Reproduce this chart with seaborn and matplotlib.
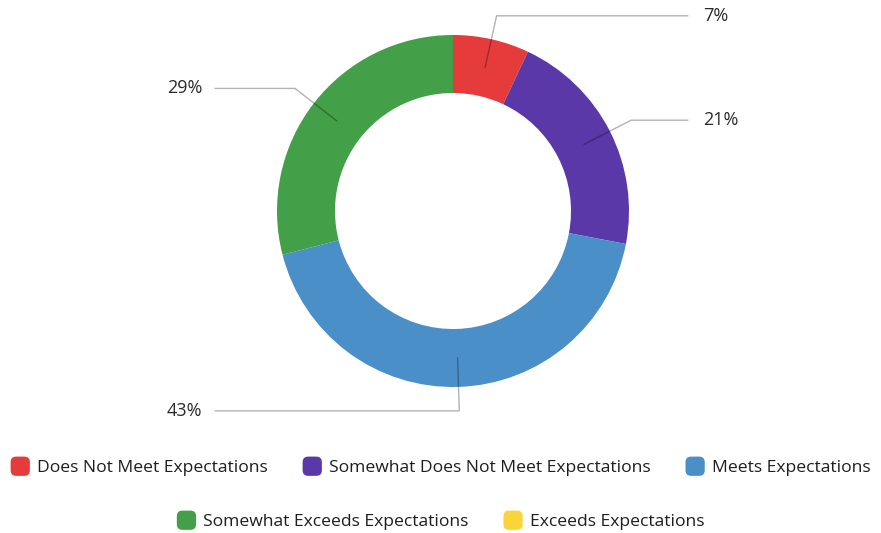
import numpy as np
import matplotlib
matplotlib.use("Agg")
import matplotlib.pyplot as plt
import seaborn as sns
from matplotlib.patches import Patch, FancyBboxPatch
from matplotlib.legend_handler import HandlerPatch

# Rating distribution
categories = [
    "Does Not Meet Expectations",
    "Somewhat Does Not Meet Expectations",
    "Meets Expectations",
    "Somewhat Exceeds Expectations",
    "Exceeds Expectations",
]
shares = [7, 21, 43, 29, 0]
colors = ["#e53b3a", "#5a38a8", "#4a8fc8", "#43a048", "#fbd43a"]
legend_rows = [categories[:3], categories[3:]]

sns.set_theme(style="white")
plt.rcParams["font.family"] = ["Open Sans", "DejaVu Sans"]
palette = sns.color_palette(colors)

W, H = 881, 533
fig = plt.figure(figsize=(W / 100, H / 100), dpi=100)
ax = fig.add_axes([0, 0, 1, 1])

cx, cy = 453, H - 211
r_out, ring = 176, 58

wedges, _ = ax.pie(
    shares, colors=palette, startangle=90, counterclock=False,
    center=(cx, cy), radius=r_out, frame=True,
    wedgeprops=dict(width=ring, linewidth=0),
)
ax.set_xlim(0, W)
ax.set_ylim(0, H)
ax.set_aspect("equal")
ax.axis("off")

# Leader lines and percentage labels
r_mid = r_out - ring / 2
r_elbow = 200
for w, v in zip(wedges, shares):
    if v <= 0:
        continue
    ang = np.deg2rad((w.theta1 + w.theta2) / 2)
    x0, y0 = cx + r_mid * np.cos(ang), cy + r_mid * np.sin(ang)
    x1, y1 = cx + r_elbow * np.cos(ang), cy + r_elbow * np.sin(ang)
    right = np.cos(ang) > 0.1
    x2 = 688 if right else 215
    ax.plot([x0, x1, x2], [y0, y1, y1], color="black", alpha=0.3, lw=1,
            solid_joinstyle="miter")
    ax.text(x2 + 15 if right else x2 - 13, y1, f"{v}%",
            ha="left" if right else "right", va="center",
            fontsize=13, color="#2a2a2a")


class RoundedSquare(HandlerPatch):
    def create_artists(self, legend, orig_handle, xdescent, ydescent,
                       width, height, fontsize, trans):
        s = width
        y = -ydescent + height / 2 - s / 2
        p = FancyBboxPatch((-xdescent, y), s, s,
                           boxstyle="round,pad=0,rounding_size=4",
                           facecolor=orig_handle.get_facecolor(),
                           edgecolor="none", transform=trans)
        return [p]


color_of = dict(zip(categories, palette))
for row, yc in zip(legend_rows, [(H - 467) / H, (H - 521) / H]):
    handles = [Patch(facecolor=color_of[c]) for c in row]
    fig.legend(handles, row, loc="center", bbox_to_anchor=(0.5, yc),
               ncol=len(row), frameon=False, fontsize=12.6,
               handlelength=1.1, handleheight=1.1, handletextpad=0.4,
               columnspacing=2.0, borderpad=0, labelcolor="#1e1e1e",
               handler_map={Patch: RoundedSquare()})

fig.savefig("out.png", dpi=100, facecolor="white")
